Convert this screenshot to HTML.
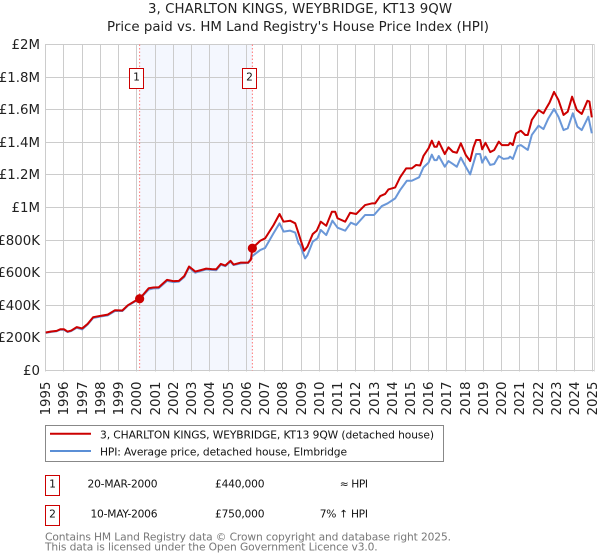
<!DOCTYPE html>
<html lang="en">
<head>
<meta charset="utf-8">
<title>3, CHARLTON KINGS, WEYBRIDGE, KT13 9QW</title>
<style>
html,body{margin:0;padding:0;background:#fff;width:600px;height:560px;overflow:hidden}
svg{display:block;font-family:"DejaVu Sans","Liberation Sans",sans-serif}
</style>
</head>
<body>
<svg id="chart" xmlns="http://www.w3.org/2000/svg" width="600" height="560" viewBox="0 0 600 560">
  <g font-size="13.33" fill="#222" text-anchor="middle">
    <text x="300" y="13" textLength="304">3, CHARLTON KINGS, WEYBRIDGE, KT13 9QW</text>
    <text x="298" y="31" textLength="382">Price paid vs. HM Land Registry's House Price Index (HPI)</text>
  </g>
  <g id="plot"></g>

  <g>
    <rect x="45.5" y="425.5" width="398" height="36" fill="#fff" stroke="#888" stroke-width="1"/>
    <line x1="50" x2="91" y1="433.8" y2="433.8" stroke="#cc0000" stroke-width="2"/>
    <text x="100" y="438.5" font-size="10.67" fill="#111" textLength="334">3, CHARLTON KINGS, WEYBRIDGE, KT13 9QW (detached house)</text>
    <line x1="50" x2="91" y1="451" y2="451" stroke="#5b8fd6" stroke-width="2"/>
    <text x="100" y="455.5" font-size="10.67" fill="#111" textLength="247">HPI: Average price, detached house, Elmbridge</text>
  </g>

  <g font-size="10.67" fill="#111">
    <rect x="45.5" y="475.5" width="14" height="20" fill="#fff" stroke="#cc0000" stroke-width="1"/>
    <text x="52.5" y="487.5" text-anchor="middle">1</text>
    <text x="157.5" y="487.5" text-anchor="end" textLength="70">20-MAR-2000</text>
    <text x="264.5" y="487.5" text-anchor="end" textLength="49.5">£440,000</text>
    <text x="368" y="487.5" text-anchor="end" textLength="28.3">≈ HPI</text>
    <rect x="45.5" y="505.5" width="14" height="20" fill="#fff" stroke="#cc0000" stroke-width="1"/>
    <text x="52.5" y="517.5" text-anchor="middle">2</text>
    <text x="157.5" y="517.5" text-anchor="end" textLength="67">10-MAY-2006</text>
    <text x="264.5" y="517.5" text-anchor="end" textLength="49.5">£750,000</text>
    <text x="368" y="517.5" text-anchor="end" textLength="48.3">7% ↑ HPI</text>
  </g>

  <g font-size="10.67" fill="#777">
    <text x="45" y="540.5" textLength="406">Contains HM Land Registry data © Crown copyright and database right 2025.</text>
    <text x="45" y="550.5" textLength="332.7">This data is licensed under the Open Government Licence v3.0.</text>
  </g>
</svg>
<script>
var yearTicks = [1995,1996,1997,1998,1999,2000,2001,2002,2003,2004,2005,2006,2007,2008,2009,2010,2011,2012,2013,2014,2015,2016,2017,2018,2019,2020,2021,2022,2023,2024,2025];
var valueTicks = [0,200,400,600,800,1000,1200,1400,1600,1800,2000];
var valueTickLabels = ['£0','£200K','£400K','£600K','£800K','£1M','£1.2M','£1.4M','£1.6M','£1.8M','£2M'];

var saleDates = [2000.15, 2006.33];
var salePrices = [440, 750];
var saleLabels = ['1', '2'];

var priceDates = [1995,1995.3,1995.6,1995.8,1996,1996.2,1996.4,1996.7,1997,1997.3,1997.6,1998,1998.4,1998.8,1999.2,1999.5,2000,2000.15,2000.65,2000.9,2001.2,2001.65,2002.02,2002.3,2002.6,2002.86,2003.2,2003.48,2003.8,2004.1,2004.35,2004.6,2004.85,2005.13,2005.3,2005.7,2006.1,2006.25,2006.33,2006.76,2007.03,2007.49,2007.82,2008.04,2008.4,2008.68,2008.86,2008.95,2009.17,2009.35,2009.64,2009.86,2010.08,2010.38,2010.69,2010.87,2011,2011.42,2011.69,2012.02,2012.51,2012.88,2013.06,2013.34,2013.61,2013.79,2014.16,2014.43,2014.76,2015.07,2015.31,2015.53,2015.71,2015.99,2016.17,2016.31,2016.44,2016.55,2016.88,2017.08,2017.32,2017.54,2017.76,2018.03,2018.27,2018.45,2018.6,2018.82,2018.93,2019.11,2019.37,2019.59,2019.84,2020.01,2020.37,2020.46,2020.61,2020.79,2021.05,2021.29,2021.43,2021.65,2022.02,2022.29,2022.44,2022.62,2022.87,2023.11,2023.39,2023.62,2023.86,2024.12,2024.39,2024.7,2024.81,2024.94];
var priceValues = [233,239,243,253,253,239,245,266,258,286,327,335,343,370,368,400,433,440,505,509,511,556,548,550,580,638,607,615,625,622,621,654,644,673,650,662,662,680,750,796,811,892,960,913,919,903,842,810,735,760,837,858,913,888,974,974,934,913,968,960,1015,1025,1025,1070,1083,1111,1123,1185,1240,1240,1261,1258,1316,1363,1410,1373,1373,1404,1328,1369,1342,1336,1394,1322,1285,1369,1414,1414,1357,1397,1340,1353,1404,1383,1383,1397,1383,1455,1471,1445,1445,1537,1598,1578,1609,1643,1709,1660,1568,1588,1680,1598,1574,1655,1650,1553];

var hpiDates = [1995,1995.3,1995.6,1995.8,1996,1996.2,1996.4,1996.7,1997,1997.3,1997.6,1998,1998.4,1998.8,1999.2,1999.5,2000,2000.15,2000.65,2000.9,2001.2,2001.65,2002.02,2002.3,2002.6,2002.86,2003.2,2003.48,2003.8,2004.1,2004.35,2004.6,2004.85,2005.13,2005.3,2005.7,2006.1,2006.33,2006.76,2007.03,2007.49,2007.82,2008.04,2008.4,2008.68,2008.86,2008.95,2009.22,2009.35,2009.64,2009.9,2010.08,2010.38,2010.72,2011,2011.42,2011.73,2012.02,2012.51,2013,2013.43,2013.74,2014.16,2014.43,2014.8,2015.07,2015.47,2015.71,2015.99,2016.17,2016.31,2016.44,2016.55,2016.88,2017.08,2017.32,2017.54,2017.76,2018.03,2018.27,2018.45,2018.6,2018.82,2018.93,2019.11,2019.37,2019.59,2019.84,2020.1,2020.37,2020.46,2020.61,2020.87,2021.05,2021.43,2021.65,2022.02,2022.29,2022.56,2022.87,2023.11,2023.39,2023.62,2023.9,2024.15,2024.39,2024.75,2024.94];
var hpiValues = [231,237,241,250,250,236,242,262,252,282,322,331,338,365,365,397,430,438,497,504,505,550,542,545,574,632,600,610,620,617,615,649,640,668,647,657,660,702,739,752,842,903,852,858,846,780,770,688,708,790,811,862,831,919,876,858,907,893,954,954,1009,1025,1056,1107,1164,1164,1185,1246,1275,1324,1291,1291,1316,1250,1285,1267,1250,1306,1250,1203,1271,1328,1328,1275,1312,1261,1267,1316,1298,1302,1312,1298,1377,1383,1353,1445,1502,1481,1547,1604,1557,1475,1486,1578,1496,1475,1557,1455];

var NS = 'http://www.w3.org/2000/svg';
var plot = document.getElementById('plot');
var PLOT_LEFT = 45.7, YEAR_PX = 18.24, ZERO_Y = 370.5, K_PX = 0.163, PLOT_RIGHT = 594.5;

function xScale(year) { return PLOT_LEFT + (year - 1995) * YEAR_PX; }
function yScale(value) { return ZERO_Y - value * K_PX; }
function snap(v) { return Math.floor(v) + 0.5; }
function make(tag, attrs) {
  var el = document.createElementNS(NS, tag);
  for (var k in attrs) el.setAttribute(k, attrs[k]);
  plot.appendChild(el);
  return el;
}
function pathFrom(dates, values) {
  return dates.map(function (d, i) {
    return (i ? 'L' : 'M') + xScale(d).toFixed(2) + ' ' + yScale(values[i]).toFixed(2);
  }).join(' ');
}

var band = make('rect', {x: xScale(saleDates[0]), y: yScale(2000), width: xScale(saleDates[1]) - xScale(saleDates[0]), height: yScale(0) - yScale(2000), fill: '#f4f7fe'});



yearTicks.forEach(function (yr) {
  var x = snap(xScale(yr));
  var line = make('line', {x1: x, x2: x, y1: yScale(2000), y2: yScale(0) + 1, stroke: '#cccccc', 'stroke-width': 1});
  
  
  var label = make('text', {transform: 'translate(' + (x + 4.5) + ' 381.5) rotate(-90)', 'text-anchor': 'end', 'font-size': 13.33, fill: '#222'});
  label.textContent = String(yr);
  
  
});

valueTicks.forEach(function (v, i) {
  var y = snap(yScale(v));
  var line = make('line', {x1: 45, x2: PLOT_RIGHT, y1: y, y2: y, stroke: '#cccccc', 'stroke-width': 1});
  
  
  var label = make('text', {x: 40, y: y + 4.5, 'text-anchor': 'end', 'font-size': 13.33, fill: '#222'});
  label.textContent = valueTickLabels[i];
  
  
});

var rightEdge = make('line', {x1: PLOT_RIGHT, x2: PLOT_RIGHT, y1: yScale(2000), y2: yScale(0) + 1, stroke: '#dddddd', 'stroke-width': 1});



saleDates.forEach(function (d) {
  var x = xScale(d);
  var line = make('line', {x1: x, x2: x, y1: yScale(2000), y2: yScale(0), stroke: '#ff7777', 'stroke-width': 1, 'stroke-dasharray': '1.5 2'});
  
  
});

var hpiLine = make('path', {d: pathFrom(hpiDates, hpiValues), fill: 'none', stroke: '#6a97d8', 'stroke-width': 2, 'stroke-linejoin': 'round'});



var priceLine = make('path', {d: pathFrom(priceDates, priceValues), fill: 'none', stroke: '#cc0000', 'stroke-width': 2, 'stroke-linejoin': 'round'});



saleDates.forEach(function (d, i) {
  var dot = make('circle', {cx: xScale(d), cy: yScale(salePrices[i]), r: 4.6, fill: '#cc0000'});
  
  
  var boxX = Math.floor(xScale(d) - 9.9) + 0.5;
  var box = make('rect', {x: boxX, y: 68.5, width: 14, height: 20, fill: '#fff', stroke: '#cc0000', 'stroke-width': 1});
  
  
  var num = make('text', {x: boxX + 7, y: 80.5, 'text-anchor': 'middle', 'font-size': 10.67, fill: '#111'});
  num.textContent = saleLabels[i];
  
  
});
</script>
</body>
</html>
